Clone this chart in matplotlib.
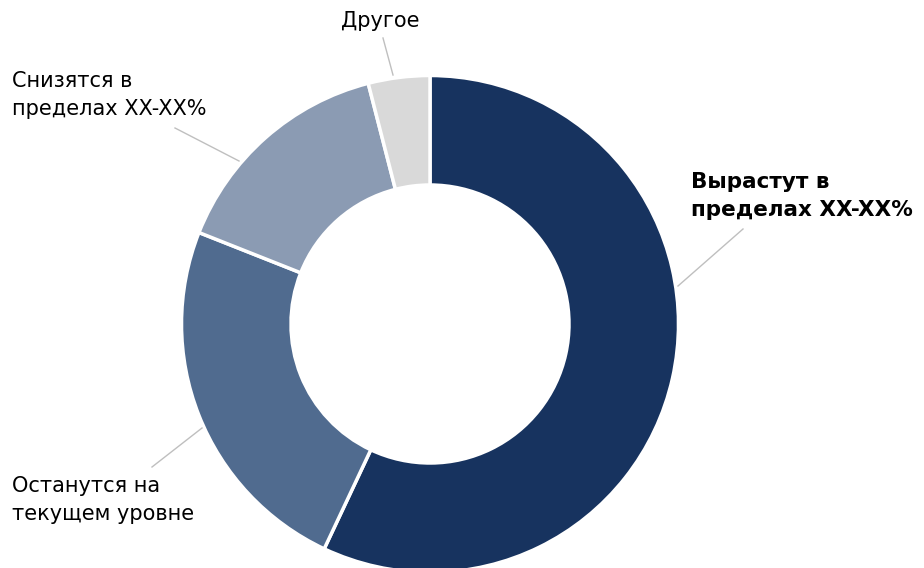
import matplotlib
matplotlib.use("Agg")
import matplotlib.pyplot as plt

# Forecast shares (percent), clockwise from 12 o'clock
labels = ["Вырастут в\nпределах XX-XX%", "Останутся на\nтекущем уровне",
          "Снизятся в\nпределах XX-XX%", "Другое"]
values = [57, 24, 15, 4]
colors = ["#17335F", "#506B8F", "#8B9BB3", "#D9D9D9"]

plt.rcParams["font.family"] = ["DejaVu Sans"]

W, H = 924, 568
fig = plt.figure(figsize=(W / 100, H / 100), dpi=100)
ax = fig.add_axes([0, 0, 1, 1])

cx, cy = 430, H - 324
R_out, R_in = 248.5, 139

ax.pie(values, colors=colors, startangle=90, counterclock=False,
       center=(cx, cy), radius=R_out, frame=True,
       wedgeprops=dict(width=R_out - R_in, edgecolor="white", linewidth=2.5))
ax.set_xlim(0, W)
ax.set_ylim(0, H)
ax.set_aspect("equal")
ax.axis("off")

# Leader lines (from ring edge to label) and label placement, in pixel coords
leaders = [((678, 286), (743, 229)),
           ((202, 428), (152, 467)),
           ((239, 161), (175, 128)),
           ((393, 75), (383, 38))]
label_pos = [(691, 196, "left", "center", "bold", 15.5),
             (12, 500, "left", "center", "normal", 15),
             (12, 95, "left", "center", "normal", 15),
             (380, 21, "center", "center", "normal", 15)]

for (p0, p1), (tx, ty, ha, va, fw, fs), lab in zip(leaders, label_pos, labels):
    ax.plot([p0[0], p1[0]], [H - p0[1], H - p1[1]], color="#BFBFBF", lw=1.0)
    ax.text(tx, H - ty, lab, ha=ha, va=va, fontsize=fs, fontweight=fw,
            color="black", linespacing=1.45)

fig.savefig("out.png", dpi=100)
